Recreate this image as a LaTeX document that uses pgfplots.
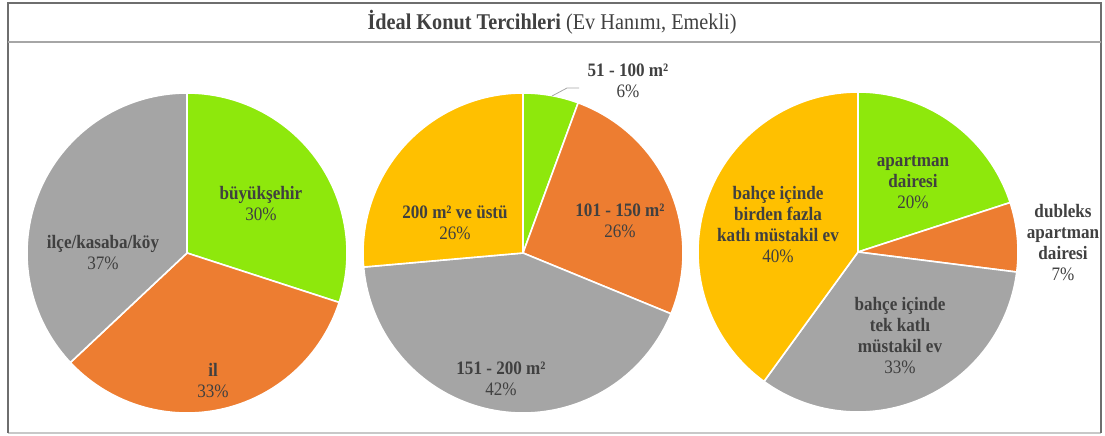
\documentclass[border=0pt]{standalone}
\usepackage{pgfplots}
\pgfplotsset{compat=1.18}
\usepackage{fontspec}
\setmainfont{Liberation Serif}[FakeStretch=0.9]
\definecolor{cgreen}{HTML}{8EE80C}
\definecolor{corange}{HTML}{ED7D31}
\definecolor{cgray}{HTML}{A5A5A5}
\definecolor{cyellow}{HTML}{FFC000}
\definecolor{txt}{HTML}{404040}
\definecolor{frame}{HTML}{6E6E6E}
\definecolor{framelight}{HTML}{C8C8C8}
\definecolor{sep}{HTML}{A6A6A6}
% #1 cx, #2 cy, #3 start (%), #4 end (%), #5 colour, #6 radius
\newcommand{\slice}[6]{%
  \addplot[fill=#5, draw=white, line width=1.6bp, line join=round,
    domain={3.6*#3}:{3.6*#4}, samples=90, variable=\t]
    ({#1+#6*sin(\t)},{#2-#6*cos(\t)}) -- (axis cs:#1,#2) -- cycle;}
\newcommand{\lbl}{\fontsize{19bp}{21bp}\selectfont}
\begin{document}
\begin{tikzpicture}
\begin{axis}[width=1105bp, height=436bp, scale only axis,
  xmin=0, xmax=1105, ymin=0, ymax=436, y dir=reverse,
  axis lines=none, ticks=none, clip=false]
\path (axis cs:0,0) rectangle (axis cs:1105,436);
% frame
\draw[framelight, line width=1.5bp] (axis cs:8,433) -- (axis cs:1101,433);
\draw[frame, line width=1.8bp] (axis cs:8,433) -- (axis cs:8,3) -- (axis cs:1101,3) -- (axis cs:1101,433);
\draw[sep, line width=1.2bp] (axis cs:8,42) -- (axis cs:1101,42);
\node[text=txt, font=\fontsize{22.5bp}{26bp}\selectfont] at (axis cs:552,22)
  {\textbf{İdeal Konut Tercihleri} (Ev Hanımı, Emekli)};
% pie 1: büyükşehir 30, il 33, ilçe/kasaba/köy 37
\slice{187}{253}{0}{30}{cgreen}{160}
\slice{187}{253}{30}{63}{corange}{160}
\slice{187}{253}{63}{100}{cgray}{160}
% pie 2: 51-100 (6), 101-150 (26), 151-200 (42), 200+ (26)
\slice{523}{253}{0}{5.6}{cgreen}{160}
\slice{523}{253}{5.6}{31.2}{corange}{160}
\slice{523}{253}{31.2}{73.6}{cgray}{160}
\slice{523}{253}{73.6}{100}{cyellow}{160}
% pie 3: apartman dairesi 20, dubleks 7, tek katlı 33, birden fazla katlı 40
\slice{858}{252}{0}{20}{cgreen}{160}
\slice{858}{252}{20}{27}{corange}{160}
\slice{858}{252}{27}{60}{cgray}{160}
\slice{858}{252}{60}{100}{cyellow}{160}
% leader line
\draw[sep, line width=0.8bp] (axis cs:552,96) -- (axis cs:567,88) -- (axis cs:579,88);
% labels
\tikzset{lab/.style={align=center, text=txt, font=\lbl, inner sep=0pt}}
\node[lab] at (axis cs:261,204) {\textbf{büyükşehir}\\30\%};
\node[lab] at (axis cs:103,253) {\textbf{ilçe/kasaba/köy}\\37\%};
\node[lab] at (axis cs:213,381) {\textbf{il}\\33\%};
\node[lab] at (axis cs:628,81) {\textbf{51 - 100 m²}\\6\%};
\node[lab] at (axis cs:620,221) {\textbf{101 - 150 m²}\\26\%};
\node[lab] at (axis cs:455,223) {\textbf{200 m² ve üstü}\\26\%};
\node[lab] at (axis cs:501,379) {\textbf{151 - 200 m²}\\42\%};
\node[lab] at (axis cs:913,182) {\textbf{apartman}\\\textbf{dairesi}\\20\%};
\node[lab] at (axis cs:1063,243) {\textbf{dubleks}\\\textbf{apartman}\\\textbf{dairesi}\\7\%};
\node[lab] at (axis cs:778,225) {\textbf{bahçe içinde}\\\textbf{birden fazla}\\\textbf{katlı müstakil ev}\\40\%};
\node[lab] at (axis cs:900,336) {\textbf{bahçe içinde}\\\textbf{tek katlı}\\\textbf{müstakil ev}\\33\%};
\end{axis}
\end{tikzpicture}
\end{document}
